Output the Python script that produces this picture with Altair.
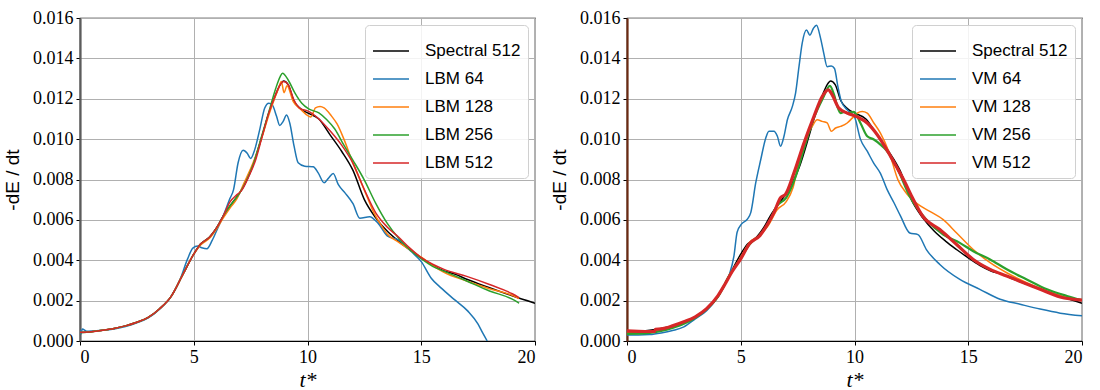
import altair as alt
import pandas as pd

# ---------------------------------------------------------------
# Energy dissipation rate -dE/dt versus non-dimensional time t*
# ---------------------------------------------------------------

# Spectral reference solution (512^3), shown in both panels
spectral_t = [0, 0.5, 1, 1.5, 2, 2.5, 3, 3.5, 4, 4.5, 5, 5.3, 5.7, 6, 6.3, 6.7, 7, 7.3, 7.6,
              8, 8.3, 8.6, 8.8, 8.95, 9.15, 9.4, 9.7, 10, 10.5, 11, 11.5, 12, 12.5, 13,
              13.5, 14, 14.5, 15, 15.5, 16, 16.5, 17, 18, 19, 20]
spectral_v = [0.00042, 0.00046, 0.00053, 0.00062, 0.00075, 0.00093, 0.00117, 0.00160, 0.00220,
              0.00325, 0.00430, 0.00480, 0.00515, 0.00560, 0.00620, 0.00685, 0.00730, 0.00790,
              0.00870, 0.01015, 0.01130, 0.01220, 0.01270, 0.01288, 0.01270, 0.01190, 0.01150,
              0.01130, 0.01100, 0.01020, 0.00940, 0.00845, 0.00700, 0.00610, 0.00545, 0.00495,
              0.00452, 0.00412, 0.00375, 0.00347, 0.00330, 0.00306, 0.00264, 0.00224, 0.00187]

# Lattice Boltzmann runs
lbm64_t = [0, 0.05, 0.1, 0.3, 0.6, 1, 1.5, 2, 2.5, 3, 3.5, 4, 4.4, 4.73, 4.96, 5.17, 5.35,
           5.58, 5.81, 6.04, 6.3, 6.58, 6.75, 6.95, 7.17, 7.35, 7.5, 7.68, 7.9, 8.12, 8.3,
           8.45, 8.64, 8.78, 8.93, 9.08, 9.22, 9.41, 9.59, 9.88, 10.25, 10.47, 10.73, 10.94,
           11.13, 11.35, 11.64, 12.0, 12.3, 12.73, 13.1, 13.54, 13.98, 14.56, 15.0, 15.44,
           15.88, 16.46, 17.05, 17.49, 17.7, 17.9]
lbm64_v = [0.00055, 0.00035, 0.00060, 0.00048, 0.00050, 0.00053, 0.00060, 0.00072, 0.00090,
           0.00115, 0.00158, 0.00220, 0.00305, 0.00407, 0.00460, 0.00470, 0.00462, 0.00457,
           0.00498, 0.00555, 0.00621, 0.00703, 0.00750, 0.00883, 0.00945, 0.00930, 0.00904,
           0.00948, 0.01047, 0.01154, 0.01178, 0.01170, 0.01113, 0.01068, 0.01088, 0.01120,
           0.01080, 0.00965, 0.00883, 0.00866, 0.00863, 0.00833, 0.00784, 0.00809, 0.00830,
           0.00776, 0.00735, 0.00680, 0.00608, 0.00616, 0.00584, 0.00518, 0.00502, 0.00443,
           0.00393, 0.00311, 0.00262, 0.00205, 0.00148, 0.00085, 0.00040, 0.00000]

lbm128_t = [0, 0.5, 1, 1.5, 2, 2.5, 3, 3.5, 4, 4.5, 5, 5.3, 5.7, 6, 6.3, 6.6, 6.9, 7.2, 7.6,
            8, 8.3, 8.55, 8.72, 8.85, 8.97, 9.1, 9.37, 9.73, 10.03, 10.15, 10.35, 10.55,
            10.73, 11.05, 11.3, 11.6, 12, 12.3, 12.6, 12.9, 13.2, 13.5, 14, 14.5, 15, 15.5,
            16, 17, 18, 19, 19.3]
lbm128_v = [0.00042, 0.00046, 0.00053, 0.00062, 0.00075, 0.00093, 0.00117, 0.00160, 0.00220,
            0.00325, 0.00430, 0.00475, 0.00510, 0.00555, 0.00610, 0.00660, 0.00705, 0.00780,
            0.00880, 0.01010, 0.01120, 0.01200, 0.01250, 0.01285, 0.01230, 0.01265, 0.01187,
            0.01145, 0.01115, 0.01110, 0.01155, 0.01162, 0.01155, 0.01115, 0.01075, 0.01000,
            0.00880, 0.00800, 0.00720, 0.00640, 0.00580, 0.00530, 0.00490, 0.00452, 0.00415,
            0.00375, 0.00340, 0.00297, 0.00259, 0.00226, 0.00210]

lbm256_t = [0, 0.5, 1, 1.5, 2, 2.5, 3, 3.5, 4, 4.5, 5, 5.3, 5.7, 6, 6.3, 6.7, 7, 7.3, 7.6,
            8, 8.3, 8.6, 8.8, 8.9, 9.15, 9.45, 9.75, 10.05, 10.5, 10.85, 11.2, 11.6, 12, 12.5,
            13, 13.5, 14, 14.5, 15, 15.5, 16, 17, 18, 19, 19.3]
lbm256_v = [0.00042, 0.00046, 0.00053, 0.00062, 0.00075, 0.00093, 0.00117, 0.00160, 0.00220,
            0.00325, 0.00430, 0.00480, 0.00515, 0.00560, 0.00620, 0.00685, 0.00730, 0.00790,
            0.00870, 0.01020, 0.01135, 0.01250, 0.01310, 0.01326, 0.01293, 0.01228, 0.01178,
            0.01150, 0.01130, 0.01096, 0.01050, 0.00970, 0.00895, 0.00797, 0.00682, 0.00584,
            0.00510, 0.00452, 0.00408, 0.00370, 0.00346, 0.00297, 0.00248, 0.00207, 0.00187]

lbm512_t = [0, 0.5, 1, 1.5, 2, 2.5, 3, 3.5, 4, 4.5, 5, 5.3, 5.7, 6, 6.3, 6.6, 6.9, 7.1, 7.4,
            7.7, 8, 8.3, 8.6, 8.8, 8.95, 9.15, 9.4, 9.7, 10, 10.5, 11, 11.5, 12, 12.5, 13,
            13.5, 14, 14.5, 15, 15.5, 16, 17, 18, 19, 19.3]
lbm512_v = [0.00043, 0.00046, 0.00053, 0.00062, 0.00075, 0.00093, 0.00117, 0.00160, 0.00220,
            0.00325, 0.00430, 0.00480, 0.00515, 0.00560, 0.00620, 0.00690, 0.00725, 0.00745,
            0.00810, 0.00890, 0.01010, 0.01130, 0.01220, 0.01270, 0.01285, 0.01270, 0.01195,
            0.01150, 0.01140, 0.01100, 0.01040, 0.00970, 0.00880, 0.00750, 0.00635, 0.00565,
            0.00515, 0.00460, 0.00413, 0.00380, 0.00355, 0.00320, 0.00280, 0.00234, 0.00215]

# Vortex method runs
vm64_t = [0, 0.5, 1, 1.5, 2, 2.5, 3, 3.5, 4, 4.3, 4.5, 4.7, 4.84, 5.04, 5.3, 5.44, 5.66,
          5.88, 6.1, 6.24, 6.46, 6.61, 6.75, 6.9, 7.05, 7.27, 7.41, 7.56, 7.7, 7.89, 8.04,
          8.19, 8.33, 8.51, 8.65, 8.8, 8.98, 9.12, 9.27, 9.42, 9.68, 10.0, 10.26, 10.56,
          10.85, 11.14, 11.43, 11.73, 12.02, 12.43, 12.79, 13.16, 13.75, 14.63, 15.51, 16.4,
          17.28, 18.16, 19.04, 20]
vm64_v = [0.00030, 0.00030, 0.00032, 0.00040, 0.00052, 0.00070, 0.00110, 0.00150, 0.00220,
          0.00280, 0.00330, 0.00420, 0.00539, 0.00580, 0.00605, 0.00636, 0.00784, 0.00899,
          0.01006, 0.01039, 0.01039, 0.01014, 0.00965, 0.01014, 0.01096, 0.01162, 0.01228,
          0.01359, 0.01474, 0.01540, 0.01515, 0.01548, 0.01564, 0.01499, 0.01425, 0.01359,
          0.01362, 0.01350, 0.01260, 0.01187, 0.01145, 0.01110, 0.01000, 0.00940, 0.00880,
          0.00830, 0.00751, 0.00686, 0.00620, 0.00535, 0.00527, 0.00453, 0.00379, 0.00305,
          0.00256, 0.00207, 0.00182, 0.00158, 0.00138, 0.00125]

vm128_t = [0, 0.5, 1, 1.5, 2, 2.5, 3, 3.5, 4, 4.5, 5, 5.4, 5.8, 6.2, 6.6, 7.0, 7.3, 7.63,
           8.14, 8.36, 8.58, 8.8, 8.98, 9.17, 9.39, 9.68, 9.9, 10.12, 10.34, 10.56, 10.85,
           11.14, 11.54, 11.91, 12.28, 12.72, 13.31, 13.9, 14.49, 15.22, 15.96, 16.69, 17.57,
           18.46, 19.34, 20]
vm128_v = [0.00040, 0.00040, 0.00042, 0.00052, 0.00068, 0.00088, 0.00117, 0.00160, 0.00220,
           0.00325, 0.00415, 0.00490, 0.00520, 0.00570, 0.00650, 0.00690, 0.00760, 0.00932,
           0.01063, 0.01096, 0.01088, 0.01080, 0.01039, 0.01055, 0.01063, 0.01080, 0.01104,
           0.01129, 0.01137, 0.01129, 0.01080, 0.01030, 0.00929, 0.00798, 0.00732, 0.00683,
           0.00642, 0.00601, 0.00535, 0.00453, 0.00388, 0.00338, 0.00289, 0.00248, 0.00215,
           0.00204]

vm256_t = [0, 0.5, 1, 1.5, 2, 2.5, 3, 3.5, 4, 4.5, 5, 5.4, 5.8, 6.2, 6.6, 7.0, 7.4, 7.8,
           8.2, 8.6, 8.92, 9.1, 9.25, 9.39, 9.55, 9.68, 9.97, 10.26, 10.56, 10.85, 11.14,
           11.4, 11.84, 12.43, 13.16, 13.9, 14.63, 15.22, 15.96, 16.69, 17.57, 18.46, 19.34, 20]
vm256_v = [0.00035, 0.00036, 0.00040, 0.00050, 0.00065, 0.00085, 0.00115, 0.00158, 0.00220,
           0.00325, 0.00410, 0.00480, 0.00520, 0.00580, 0.00670, 0.00710, 0.00810, 0.00960,
           0.01100, 0.01200, 0.01264, 0.01220, 0.01160, 0.01129, 0.01135, 0.01129, 0.01135,
           0.01080, 0.01014, 0.00998, 0.00973, 0.00945, 0.00864, 0.00716, 0.00601, 0.00527,
           0.00486, 0.00445, 0.00404, 0.00355, 0.00305, 0.00256, 0.00223, 0.00202]

vm512_t = [0, 0.5, 1, 1.2, 1.25, 1.5, 2, 2.5, 3, 3.5, 4, 4.3, 4.61, 5.0, 5.38, 5.84, 6.23,
           6.46, 6.75, 6.97, 7.34, 7.78, 8.22, 8.58, 8.85, 9.02, 9.31, 9.68, 10.12, 10.56,
           11.0, 11.58, 11.84, 12.2, 12.5, 13.01, 13.75, 14.49, 15.22, 15.96, 16.69, 17.43,
           18.16, 19.04, 20]
vm512_v = [0.00050, 0.00048, 0.00047, 0.00047, 0.00058, 0.00060, 0.00075, 0.00095, 0.00120,
           0.00160, 0.00225, 0.00280, 0.00342, 0.00407, 0.00481, 0.00522, 0.00588, 0.00636,
           0.00710, 0.00727, 0.00833, 0.00981, 0.01113, 0.01211, 0.01244, 0.01219, 0.01154,
           0.01129, 0.01110, 0.01080, 0.01022, 0.00916, 0.00864, 0.00790, 0.00720, 0.00617,
           0.00552, 0.00478, 0.00404, 0.00355, 0.00322, 0.00289, 0.00256, 0.00218, 0.00202]

PALETTE = ["#000000", "#1f77b4", "#ff7f0e", "#2ca02c", "#d62728"]


def build_panel(series, widths, spine_color):
    names = [s[0] for s in series]
    rows = []
    for name, ts, vs in series:
        rows += [{"series": name, "t": t, "v": v} for t, v in zip(ts, vs)]
    df = pd.DataFrame(rows)

    base = alt.Chart(df).encode(
        x=alt.X("t:Q", scale=alt.Scale(domain=[0, 20], nice=False),
                axis=alt.Axis(values=[0, 5, 10, 15, 20], format="d", title="t*",
                              titleFont="Liberation Serif", titleFontStyle="italic",
                              titleFontSize=22, titlePadding=3)),
        y=alt.Y("v:Q", scale=alt.Scale(domain=[0, 0.016], nice=False),
                axis=alt.Axis(values=[i * 0.002 for i in range(9)], format=".3f",
                              title="-dE / dt", domainColor=spine_color,
                              domainWidth=2.2, titlePadding=10)),
        color=alt.Color("series:N", scale=alt.Scale(domain=names, range=PALETTE),
                        legend=alt.Legend(title=None)),
    )
    layers = [
        base.transform_filter(alt.datum.series == name).mark_line(
            strokeWidth=w, clip=True, interpolate="monotone")
        for name, w in zip(names, widths)
    ]
    return alt.layer(*layers).properties(width=455, height=323)


left = build_panel(
    [("Spectral 512", spectral_t, spectral_v),
     ("LBM 64", lbm64_t, lbm64_v),
     ("LBM 128", lbm128_t, lbm128_v),
     ("LBM 256", lbm256_t, lbm256_v),
     ("LBM 512", lbm512_t, lbm512_v)],
    [1.5, 1.5, 1.5, 1.5, 1.5],
    "#5c5c5c",
)

right = build_panel(
    [("Spectral 512", spectral_t, spectral_v),
     ("VM 64", vm64_t, vm64_v),
     ("VM 128", vm128_t, vm128_v),
     ("VM 256", vm256_t, vm256_v),
     ("VM 512", vm512_t, vm512_v)],
    [1.5, 1.5, 1.5, 2.2, 3.2],
    "#6b2a12",
)

chart = (
    alt.hconcat(left, right, spacing=12)
    .resolve_scale(color="independent")
    .properties(padding={"left": 2, "top": 8, "right": 5, "bottom": 0}, background="white")
    .configure_view(stroke="#000000", strokeWidth=1.2)
    .configure_axis(
        labelFont="Liberation Serif", labelFontSize=18, labelColor="#000000",
        tickColor="#000000", tickSize=4, tickWidth=1,
        gridColor="#b0b0b0", gridWidth=1,
        domainColor="#000000", domainWidth=1.2,
        titleFont="Liberation Sans", titleFontSize=19, titleFontWeight="normal",
        titleColor="#000000", labelPadding=3,
    )
    .configure_legend(
        orient="top-right", offset=7, fillColor="rgba(255,255,255,0.85)",
        strokeColor="#d0d0d0", cornerRadius=4, padding=7,
        labelFont="Liberation Sans", labelFontSize=17, labelColor="#000000",
        labelOffset=15, symbolType="stroke", symbolSize=1300, symbolStrokeWidth=1.6,
        rowPadding=1,
    )
)

chart.save("out.html", embed_options={"renderer": "svg", "actions": False})
